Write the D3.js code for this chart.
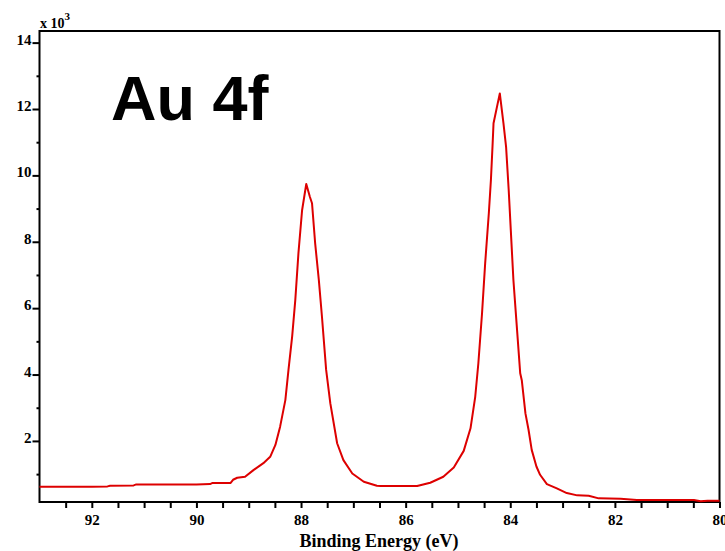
<!DOCTYPE html>
<html>
<head>
<meta charset="utf-8">
<script src="https://cdn.jsdelivr.net/npm/d3@7"></script>
<style>
  html, body { margin: 0; padding: 0; background: #fff; }
  svg { display: block; }
</style>
</head>
<body>
<div id="chart"></div>
<script>
// Binding energy (eV)
const energy = [
  93.00, 92.50, 92.00, 91.70, 91.65, 91.20, 91.15, 90.50, 90.00, 89.74, 89.70, 89.35,
  89.30, 89.22, 89.07, 88.91, 88.72, 88.59, 88.49, 88.40, 88.30, 88.24, 88.17, 88.11,
  88.05, 87.98, 87.90, 87.83, 87.79, 87.73, 87.66, 87.60, 87.52, 87.44, 87.31, 87.19,
  87.02, 86.80, 86.55, 86.48, 86.00, 85.78, 85.53, 85.28, 85.08, 84.89, 84.76, 84.67,
  84.61, 84.54, 84.48, 84.41, 84.37, 84.34, 84.32, 84.20, 84.13, 84.08, 84.03, 83.99,
  83.94, 83.87, 83.81, 83.78, 83.71, 83.65, 83.59, 83.50, 83.43, 83.30, 83.11, 82.92,
  82.72, 82.50, 82.31, 81.89, 81.58, 80.49, 80.36, 80.23, 80.00
];
// Intensity (counts x 10^3)
const intensity = [
  0.62, 0.62, 0.62, 0.63, 0.65, 0.66, 0.69, 0.69, 0.69, 0.70, 0.73, 0.73,
  0.83, 0.89, 0.92, 1.12, 1.33, 1.52, 1.88, 2.43, 3.23, 4.14, 5.14, 6.24,
  7.65, 8.95, 9.74, 9.35, 9.16, 7.95, 6.85, 5.74, 4.14, 3.13, 1.93, 1.42,
  1.02, 0.77, 0.65, 0.64, 0.64, 0.64, 0.74, 0.92, 1.20, 1.70, 2.38, 3.33,
  4.34, 5.84, 7.35, 8.86, 9.86, 10.86, 11.57, 12.47, 11.57, 10.86, 9.56, 8.35,
  6.85, 5.34, 4.04, 3.83, 2.83, 2.33, 1.73, 1.23, 0.98, 0.70, 0.57, 0.43,
  0.36, 0.35, 0.27, 0.26, 0.22, 0.22, 0.18, 0.20, 0.20
];
const yMajorTicks = [2, 4, 6, 8, 10, 12, 14];
const yMinorTicks = [1, 3, 5, 7, 9, 11, 13];
const xMajorTicks = [92, 90, 88, 86, 84, 82, 80];
const xMinorTicks = [92.5, 91.5, 91, 90.5, 89.5, 89, 88.5, 87.5, 87, 86.5, 85.5, 85, 84.5, 83.5, 83, 82.5, 81.5, 81, 80.5];
const titleText = "Au 4f";
const xLabel = "Binding Energy (eV)";

const W = 725, H = 551;
const mLeft = 39.5, mRight = 719.5, mTop = 31, mBottom = 502;

const svg = d3.select("#chart").append("svg").attr("width", W).attr("height", H);

const x = d3.scaleLinear().domain([93, 80]).range([mLeft, mRight]);
const y = d3.scaleLinear().domain([0.16, 14.35]).range([mBottom, mTop]);

const serif = "'Liberation Serif', 'Times New Roman', serif";

// frame
svg.append("rect")
  .attr("x", mLeft).attr("y", mTop)
  .attr("width", mRight - mLeft).attr("height", mBottom - mTop)
  .attr("fill", "none").attr("stroke", "#000").attr("stroke-width", 2);

// x axis ticks
const xAxis = d3.axisBottom(x).tickValues(xMajorTicks).tickSize(6).tickPadding(6)
  .tickFormat(d3.format("d"));
const gx = svg.append("g").attr("transform", `translate(0,${mBottom})`).call(xAxis);
gx.select(".domain").remove();
gx.selectAll("line").attr("stroke", "#000").attr("stroke-width", 2);
gx.selectAll("text").attr("font-family", serif).attr("font-weight", "bold")
  .attr("font-size", 15).attr("fill", "#000").attr("dy", "0.72em");
const gxm = svg.append("g").attr("transform", `translate(0,${mBottom})`)
  .call(d3.axisBottom(x).tickValues(xMinorTicks).tickSize(6).tickFormat(""));
gxm.select(".domain").remove();
gxm.selectAll("line").attr("stroke", "#000").attr("stroke-width", 2);

// y axis ticks
const gy = svg.append("g").attr("transform", `translate(${mLeft},0)`)
  .call(d3.axisLeft(y).tickValues(yMajorTicks).tickSize(7).tickPadding(1).tickFormat(d3.format("d")));
gy.select(".domain").remove();
gy.selectAll("line").attr("stroke", "#000").attr("stroke-width", 2);
gy.selectAll("text").attr("font-family", serif).attr("font-weight", "bold")
  .attr("font-size", 15).attr("fill", "#000").attr("dy", "0.1em");
const gym = svg.append("g").attr("transform", `translate(${mLeft},0)`)
  .call(d3.axisLeft(y).tickValues(yMinorTicks).tickSize(3).tickFormat(""));
gym.select(".domain").remove();
gym.selectAll("line").attr("stroke", "#000").attr("stroke-width", 2);

// multiplier label
const mult = svg.append("text").attr("x", 40).attr("y", 27.5)
  .attr("font-family", serif).attr("font-weight", "bold").attr("font-size", 14).attr("fill", "#000");
mult.append("tspan").text("x 10");
mult.append("tspan").attr("dy", -8).attr("font-size", 11).text("3");

// data line
const data = energy.map((e, i) => ({ e, v: intensity[i] }));
svg.append("path").datum(data)
  .attr("fill", "none").attr("stroke", "#dd0000").attr("stroke-width", 2)
  .attr("stroke-linejoin", "round")
  .attr("d", d3.line().x(d => x(d.e)).y(d => y(d.v)));

// title
svg.append("text").attr("x", 111).attr("y", 120)
  .attr("font-family", "'Liberation Sans', Arial, sans-serif").attr("font-weight", "bold")
  .attr("font-size", 63).attr("fill", "#000").text(titleText);

// x label
svg.append("text").attr("x", 379).attr("y", 547).attr("text-anchor", "middle")
  .attr("font-family", serif).attr("font-weight", "bold").attr("font-size", 18)
  .attr("fill", "#000").text(xLabel);
</script>
</body>
</html>
